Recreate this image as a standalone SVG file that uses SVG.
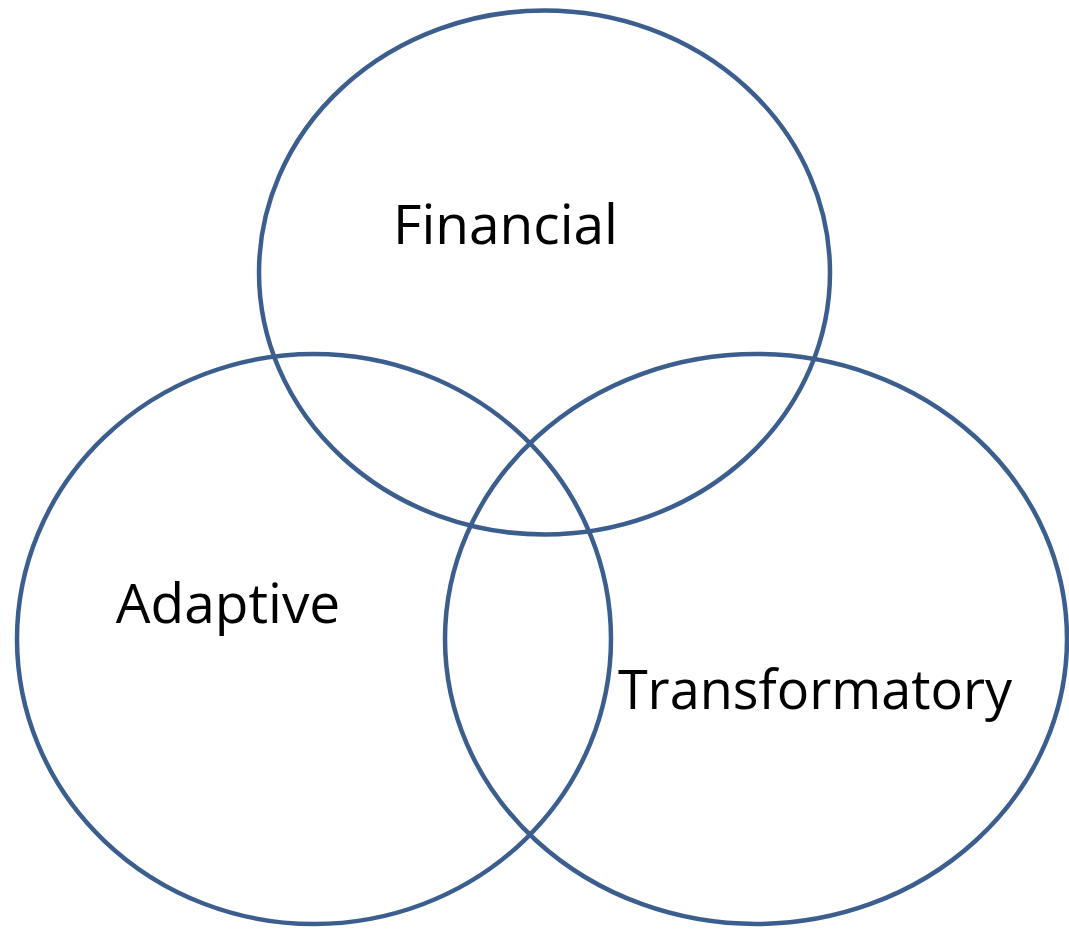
<svg xmlns="http://www.w3.org/2000/svg" width="1069" height="929" viewBox="0 0 1069 929">
<style>
.c{fill:none;stroke:#3B5E8E;stroke-width:4.5}
.t{font-family:"Open Sans","Liberation Sans",sans-serif;font-size:55px;fill:#000;text-anchor:middle}
.s{font-size:54px}
</style>
<rect width="1069" height="929" fill="#fff"/>
<g id="financial"><ellipse class="c" cx="544.5" cy="272.5" rx="285.5" ry="262"/><text class="t" x="505.5" y="244">Financial</text></g>
<g id="adaptive"><ellipse class="c" cx="314" cy="639" rx="297" ry="285"/><text class="t" x="228" y="623">Adaptive</text></g>
<g id="transformatory"><ellipse class="c" cx="756" cy="639" rx="311" ry="285"/><text class="t s" x="815" y="709">Transformatory</text></g>
<g id="connectors"/>
</svg>
